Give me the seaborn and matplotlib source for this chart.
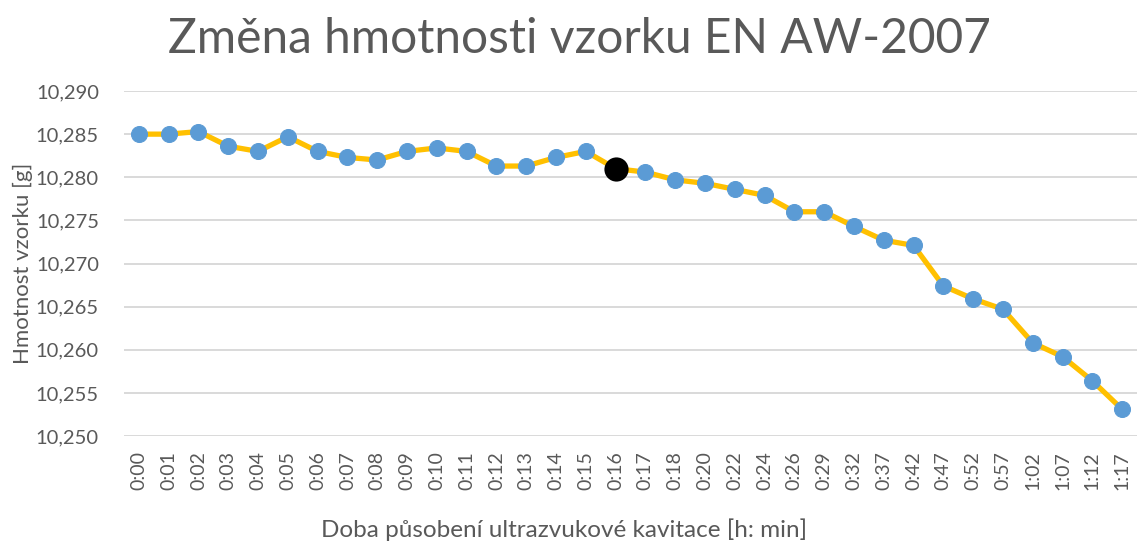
import seaborn as sns
import pandas as pd
import matplotlib.pyplot as plt
from matplotlib.ticker import FuncFormatter

times = ['0:00', '0:01', '0:02', '0:03', '0:04', '0:05', '0:06', '0:07', '0:08',
         '0:09', '0:10', '0:11', '0:12', '0:13', '0:14', '0:15', '0:16', '0:17',
         '0:18', '0:20', '0:22', '0:24', '0:26', '0:29', '0:32', '0:37', '0:42',
         '0:47', '0:52', '0:57', '1:02', '1:07', '1:12', '1:17']
mass = [10.2850, 10.2850, 10.2853, 10.2836, 10.2830, 10.2847, 10.2830, 10.2823,
        10.2820, 10.2830, 10.2834, 10.2830, 10.2813, 10.2813, 10.2823, 10.2830,
        10.2810, 10.2806, 10.2797, 10.2793, 10.2786, 10.2779, 10.2760, 10.2760,
        10.2743, 10.2727, 10.2721, 10.2674, 10.2659, 10.2647, 10.2608, 10.2592,
        10.2564, 10.2531]
highlight = '0:16'

grey = '#595959'

sns.set_style('white')
plt.rcParams['font.family'] = ['Lato', 'DejaVu Sans']

df = pd.DataFrame({'cas': times, 'hmotnost': mass})
hl = df[df['cas'] == highlight]

fig = plt.figure(figsize=(11.37, 5.45), dpi=100)
ax = fig.add_axes([0.109, 0.2, 0.891, 0.633])

sns.lineplot(data=df, x='cas', y='hmotnost', sort=False, color='#FFC000',
             linewidth=3.8, marker='o', markersize=11.5,
             markerfacecolor='#5B9BD5', markeredgecolor='#5B9BD5', ax=ax, zorder=3)
sns.scatterplot(data=hl, x='cas', y='hmotnost', color='black', s=260,
                edgecolor='black', ax=ax, zorder=4)

ax.set_xlim(-0.5, len(times) - 0.5)
ax.set_ylim(10.250, 10.290)
ax.set_yticks([10.250 + 0.005 * i for i in range(9)])
ax.yaxis.set_major_formatter(FuncFormatter(lambda v, p: f'{v:.3f}'.replace('.', ',')))
ax.grid(axis='y', color='#D9D9D9', linewidth=1.4)
ax.set_axisbelow(True)
for s in ax.spines.values():
    s.set_visible(False)

ax.tick_params(axis='x', labelrotation=90, labelsize=14, colors=grey, length=0, pad=11)
ax.tick_params(axis='y', labelsize=14.5, colors=grey, length=0, pad=18)

ax.set_xlabel('Doba působení ultrazvukové kavitace [h: min]', fontsize=17.5, color=grey)
ax.xaxis.set_label_coords(0.434, -0.238)
ax.set_ylabel('Hmotnost vzorku [g]', fontsize=16, color=grey, labelpad=2)
fig.suptitle('Změna hmotnosti vzorku EN AW-2007', fontsize=34.5, color=grey, x=0.51, y=0.968)

fig.savefig('out.png', dpi=100)
